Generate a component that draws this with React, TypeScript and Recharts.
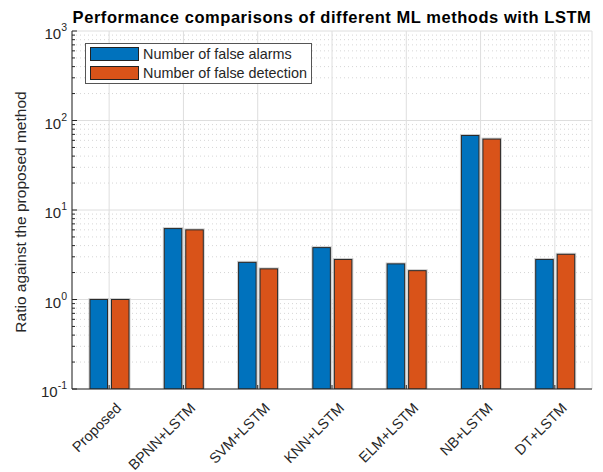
import { BarChart, Bar, XAxis, YAxis, CartesianGrid, Legend } from 'recharts';

const methods = ['Proposed', 'BPNN+LSTM', 'SVM+LSTM', 'KNN+LSTM', 'ELM+LSTM', 'NB+LSTM', 'DT+LSTM'];
const falseAlarms = [1, 6.2, 2.6, 3.8, 2.5, 68, 2.8];
const falseDetection = [1, 6.0, 2.2, 2.8, 2.1, 62, 3.2];

const decadeTicks = [0.1, 1, 10, 100, 1000];
const minorSteps = [2, 3, 4, 5, 6, 7, 8, 9];
const minorTicks = decadeTicks.slice(0, -1).flatMap((d) => minorSteps.map((k) => d * k));
const allTicks = [...decadeTicks, ...minorTicks].sort((a, b) => a - b);

const series = [
  { key: 'alarms', name: 'Number of false alarms', color: '#0072BD' },
  { key: 'detection', name: 'Number of false detection', color: '#D95319' },
];

const data = methods.map((method, i) => ({
  method,
  alarms: falseAlarms[i],
  detection: falseDetection[i],
}));

const FONT = '"Liberation Sans", Arial, Helvetica, sans-serif';
const INK = '#262626';

const isMajor = (v: number) => decadeTicks.includes(v);

const LeftTick = ({ x, y, payload }: any) => {
  const v = payload.value;
  const len = isMajor(v) ? 5 : 3;
  return (
    <g>
      <line x1={x} x2={x + len} y1={y} y2={y} stroke={INK} />
      {isMajor(v) && (
        <text x={x - 5} y={y + 8} textAnchor="end" fontSize={15} fill={INK} fontFamily={FONT}>
          10
          <tspan dy={-8} fontSize={10.5}>
            {Math.round(Math.log10(v))}
          </tspan>
        </text>
      )}
    </g>
  );
};

const RightTick = ({ x, y, payload }: any) => {
  const len = isMajor(payload.value) ? 5 : 3;
  return <line x1={x - len} x2={x} y1={y} y2={y} stroke={INK} />;
};

const BottomTick = ({ x, y, payload }: any) => {
  const ax = x + 13;
  const ay = y + 20;
  return (
    <g>
      <line x1={x} x2={x} y1={y} y2={y - 4} stroke={INK} />
      <text
        x={ax}
        y={ay}
        transform={`rotate(-45 ${ax} ${ay})`}
        textAnchor="end"
        fontSize={14.5}
        fill={INK}
        fontFamily={FONT}
      >
        {payload.value}
      </text>
    </g>
  );
};

const TopTick = ({ x, y }: any) => <line x1={x} x2={x} y1={y} y2={y + 4} stroke={INK} />;

const EdgedBar = ({ x, y, width, height, fill }: any) => {
  if (height == null || height <= 0) return null;
  return (
    <g>
      <rect x={x} y={y} width={width} height={height} fill="none" stroke="#cfcfcf" strokeWidth={3} />
      <rect x={x} y={y} width={width} height={height} fill={fill} stroke="#2a2a2a" strokeWidth={1} />
    </g>
  );
};

const LegendBox = () => (
  <div
    style={{
      boxSizing: 'border-box',
      width: 227,
      height: 41,
      background: '#fff',
      border: '1px solid #555',
      padding: '1px 4px',
      fontFamily: FONT,
      fontSize: 14.4,
      color: INK,
    }}
  >
    {series.map((s) => (
      <div key={s.key} style={{ display: 'flex', alignItems: 'center', height: 18.5 }}>
        <span
          style={{
            display: 'inline-block',
            width: 47,
            height: 12,
            background: s.color,
            border: '1px solid #222',
            marginRight: 4,
          }}
        />
        {s.name}
      </div>
    ))}
  </div>
);

export default function App() {
  return (
    <div style={{ position: 'absolute', left: 0, top: 0, width: 603, height: 472, background: '#fff', fontFamily: FONT }}>
      <div
        style={{
          position: 'absolute',
          left: 72,
          width: 520,
          top: 8,
          textAlign: 'center',
          fontWeight: 'bold',
          fontSize: 16.5,
          letterSpacing: 0.55,
          color: '#000',
          whiteSpace: 'nowrap',
        }}
      >
        Performance comparisons of different ML methods with LSTM
      </div>
      <div
        style={{
          position: 'absolute',
          left: 21,
          top: 212,
          transform: 'translate(-50%, -50%) rotate(-90deg)',
          fontSize: 15.5,
          color: INK,
          whiteSpace: 'nowrap',
        }}
      >
        Ratio against the proposed method
      </div>
      <BarChart
        width={603}
        height={472}
        data={data}
        margin={{ top: 31, right: 11, bottom: 0, left: 0 }}
        barSize={17.5}
        barGap={4}
      >
        <CartesianGrid horizontalValues={minorTicks} vertical={false} stroke="#d6d6d6" strokeDasharray="1 3" />
        <CartesianGrid horizontalValues={decadeTicks} stroke="#dedede" />
        <XAxis
          dataKey="method"
          height={83}
          interval={0}
          tickLine={false}
          tickSize={0}
          tickMargin={0}
          tick={<BottomTick />}
          axisLine={{ stroke: INK }}
        />
        <XAxis
          xAxisId="top"
          dataKey="method"
          orientation="top"
          height={0}
          interval={0}
          tickLine={false}
          tickSize={0}
          tickMargin={0}
          tick={<TopTick />}
          axisLine={{ stroke: INK }}
        />
        <YAxis
          scale="log"
          domain={[0.1, 1000]}
          allowDataOverflow
          ticks={allTicks}
          interval={0}
          width={72}
          tickLine={false}
          tickSize={0}
          tickMargin={0}
          tick={<LeftTick />}
          axisLine={{ stroke: INK }}
        />
        <YAxis
          yAxisId="right"
          orientation="right"
          scale="log"
          domain={[0.1, 1000]}
          allowDataOverflow
          ticks={allTicks}
          interval={0}
          width={0}
          tickLine={false}
          tickSize={0}
          tickMargin={0}
          tick={<RightTick />}
          axisLine={{ stroke: INK }}
        />
        <Legend
          layout="vertical"
          align="center"
          verticalAlign="middle"
          wrapperStyle={{ left: 85, top: 43, width: 227 }}
          content={<LegendBox />}
        />
        {series.map((s) => (
          <Bar
            key={s.key}
            dataKey={s.key}
            name={s.name}
            fill={s.color}
            shape={<EdgedBar />}
            isAnimationActive={false}
          />
        ))}
      </BarChart>
    </div>
  );
}
